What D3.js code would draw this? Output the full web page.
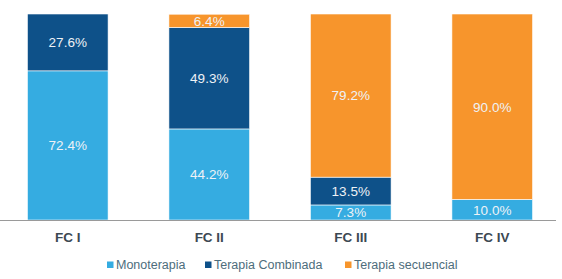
<!DOCTYPE html>
<html>
<head>
<meta charset="utf-8">
<script src="https://cdn.jsdelivr.net/npm/d3@7"></script>
<style>
  body { margin: 0; background: #fff; }
  svg { display: block; font-family: "Liberation Sans", Arial, sans-serif; }
</style>
</head>
<body>
<div id="chart"></div>
<script>
// Datos: porcentaje por clase funcional
const categories = ['FC I', 'FC II', 'FC III', 'FC IV'];
const seriesNames = ['Monoterapia', 'Terapia Combinada', 'Terapia secuencial'];
const monoterapia = [72.4, 44.2, 7.3, 10.0];
const combinada = [27.6, 49.3, 13.5, 0];
const secuencial = [0, 6.4, 79.2, 90.0];
const seriesColors = ['#35ace1', '#0e5189', '#f7952c'];

const W = 562, H = 279;
const svg = d3.select('#chart').append('svg')
    .attr('width', W).attr('height', H);

const rows = categories.map((c, i) => ({
    cat: c,
    'Monoterapia': monoterapia[i],
    'Terapia Combinada': combinada[i],
    'Terapia secuencial': secuencial[i]
}));

const stack = d3.stack().keys(seriesNames)(rows);

const x = d3.scaleBand().domain(categories).range([-3, 563]).paddingInner(0.43).paddingOuter(0.215);
const y = d3.scaleLinear().domain([0, 100]).range([220, 14]);
const color = d3.scaleOrdinal().domain(seriesNames).range(seriesColors);

// Barras apiladas
const layers = svg.selectAll('g.layer')
    .data(stack)
    .join('g')
    .attr('class', 'layer')
    .attr('fill', d => color(d.key));

layers.selectAll('rect')
    .data(d => d.filter(s => s[1] - s[0] > 0))
    .join('rect')
    .attr('x', d => x(d.data.cat))
    .attr('y', d => y(d[1]))
    .attr('width', x.bandwidth())
    .attr('height', d => y(d[0]) - y(d[1]))
    .attr('stroke', '#fff')
    .attr('stroke-width', 0.6);

// Etiquetas de valor
layers.selectAll('text')
    .data(d => d.filter(s => s[1] - s[0] > 0))
    .join('text')
    .attr('x', d => x(d.data.cat) + x.bandwidth() / 2)
    .attr('y', d => (y(d[0]) + y(d[1])) / 2)
    .attr('dy', '0.36em')
    .attr('text-anchor', 'middle')
    .attr('font-size', '13.5px')
    .attr('fill', '#eef2f6')
    .text(d => (d[1] - d[0]).toFixed(1) + '%');

// Eje X
svg.append('line')
    .attr('x1', 0).attr('x2', 556)
    .attr('y1', y(0) + 0.5).attr('y2', y(0) + 0.5)
    .attr('stroke', '#9a9a9a').attr('stroke-width', 1);

svg.selectAll('text.cat')
    .data(categories)
    .join('text')
    .attr('class', 'cat')
    .attr('x', d => x(d) + x.bandwidth() / 2)
    .attr('y', 242)
    .attr('text-anchor', 'middle')
    .attr('font-size', '13.5px')
    .attr('font-weight', 'bold')
    .attr('fill', '#3c4852')
    .text(d => d);

// Leyenda
const legendX = [107, 205, 345];
const legend = svg.selectAll('g.legend')
    .data(seriesNames)
    .join('g')
    .attr('class', 'legend')
    .attr('transform', (d, i) => `translate(${legendX[i]}, 265)`);

legend.append('rect')
    .attr('x', 0).attr('y', -3.5)
    .attr('width', 6.5).attr('height', 6.5)
    .attr('fill', d => color(d));

legend.append('text')
    .attr('x', 9)
    .attr('dy', '0.35em')
    .attr('font-size', '12.5px')
    .attr('fill', '#4d6d7c')
    .text(d => d);
</script>
</body>
</html>
